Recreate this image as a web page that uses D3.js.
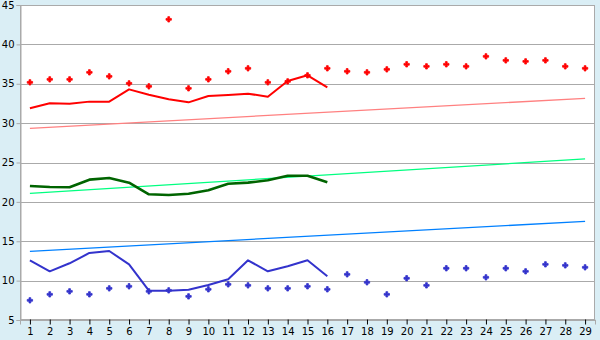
<!DOCTYPE html>
<html><head><meta charset="utf-8">
<script src="https://cdn.jsdelivr.net/npm/d3@7"></script>
<style>body{margin:0;background:#DAEEF5;} svg{display:block;}</style>
</head><body>
<svg id="c" width="600" height="340"></svg>
<script>
const categories = d3.range(1, 30).map(String);
const yTicks = [5, 10, 15, 20, 25, 30, 35, 40, 45];

const redPoints = [35.18,35.56,35.56,36.45,35.94,35.05,34.67,43.18,34.42,35.56,36.58,36.96,35.18,35.3,36.07,36.96,36.58,36.45,36.83,37.47,37.21,37.47,37.21,38.48,37.97,37.84,37.97,37.21,36.96];
const redLine = [31.88,32.52,32.47,32.73,32.73,34.29,33.61,33.02,32.64,33.44,33.57,33.74,33.36,35.35,36.07,34.54];
const redTrend = [29.34, 33.15];

const greenLine = [22.02,21.89,21.85,22.82,23.03,22.44,20.96,20.87,21.04,21.47,22.31,22.44,22.74,23.32,23.32,22.49];
const greenTrend = [21.09, 25.45];

const bluePoints = [7.5,8.26,8.64,8.26,9.02,9.28,8.64,8.77,8.0,8.9,9.53,9.4,9.02,9.02,9.28,8.9,10.8,9.79,8.26,10.3,9.4,11.57,11.57,10.42,11.57,11.18,12.07,11.94,11.69];
const blueLine = [12.58,11.18,12.2,13.51,13.76,12.07,8.72,8.72,8.85,9.44,10.17,12.58,11.18,11.82,12.58,10.55];
const blueTrend = [13.72, 17.53];

const svg = d3.select('#c');
const L = 20, R = 595, T = 5, B = 320;
const x = d3.scalePoint().domain(categories).range([L, R]).padding(0.5);
const y = d3.scaleLinear().domain([5, 45]).range([B, T]);

svg.append('rect').attr('x', L).attr('y', T).attr('width', R - L).attr('height', B - T).attr('fill', '#fff');

svg.append('g').selectAll('line').data(yTicks).join('line')
  .attr('x1', L).attr('x2', R).attr('y1', d => Math.round(y(d)) + 0.5).attr('y2', d => Math.round(y(d)) + 0.5)
  .attr('stroke', '#AAAAAA').attr('stroke-width', 1);

svg.append('rect').attr('x', L + 0.5).attr('y', T + 0.5).attr('width', R - L - 1).attr('height', B - T - 1)
  .attr('fill', 'none').attr('stroke', '#AAAAAA');

const yAxis = d3.axisLeft(y).tickValues(yTicks).tickSize(4).tickPadding(2);
const gy = svg.append('g').attr('transform', `translate(${L + 0.5},0)`).call(yAxis);
const xAxis = d3.axisBottom(x).tickSize(5).tickPadding(3);
const gx = svg.append('g').attr('transform', `translate(0,${B - 0.5})`).call(xAxis);
[gy, gx].forEach(g => {
  g.select('.domain').attr('stroke', '#AAAAAA');
  g.selectAll('.tick line').attr('stroke', '#000');
  g.selectAll('text').attr('fill', '#000').style('font-family', 'DejaVu Sans, Verdana, sans-serif').style('font-size', '10px');
});
gy.selectAll('.tick line').attr('stroke', '#AAAAAA');

const line = d3.line().x((d, i) => x(categories[i])).y(d => y(d));

function trend(vals, color) {
  const first = categories[0], last = categories[categories.length - 1];
  svg.append('line').attr('x1', x(first)).attr('x2', x(last))
    .attr('y1', y(vals[0])).attr('y2', y(vals[1]))
    .attr('stroke', color).attr('stroke-width', 1.3);
}
trend(redTrend, '#FF8080');
trend(greenTrend, '#00FF80');
trend(blueTrend, '#0080FF');

function path(vals, color, w) {
  svg.append('path').datum(vals).attr('d', line).attr('fill', 'none')
    .attr('stroke', color).attr('stroke-width', w).attr('stroke-linejoin', 'round');
}
path(redLine, '#FF0000', 2);
path(greenLine, '#006400', 2.6);
path(blueLine, '#3333CC', 2);

const sym = d3.symbol().type(d3.symbolCross).size(16);
function points(vals, color) {
  svg.append('g').selectAll('path').data(vals).join('path')
    .attr('d', sym)
    .attr('transform', (d, i) => `translate(${x(categories[i])},${y(d)})`)
    .attr('fill', color).attr('stroke', color).attr('stroke-width', 0.8).attr('stroke-linejoin', 'round');
}
points(redPoints, '#FF0000');
points(bluePoints, '#3333CC');
</script>
</body></html>
